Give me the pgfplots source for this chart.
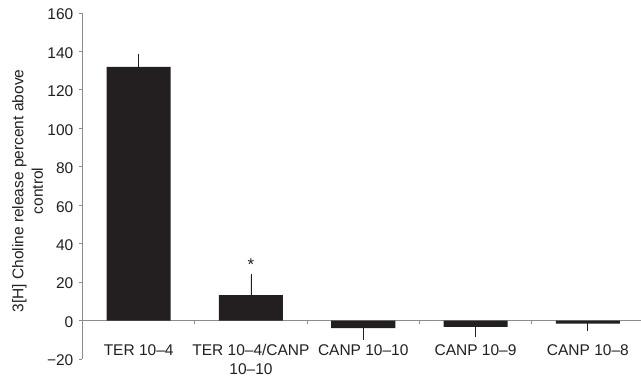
\documentclass[border=0pt]{standalone}
\usepackage{fontspec}
\setmainfont{Liberation Sans}
\usepackage{pgfplots}
\pgfplotsset{compat=1.18}
\definecolor{barc}{HTML}{231F20}
\definecolor{axc}{HTML}{8C8C8C}
\pgfplotstableread{
x y ep em
0 132.0 5.5 0
1 13.2 10.2 0
2 -4.0 0 5.0
3 -3.3 0 4.2
4 -1.6 0 2.6
}\bardata
\begin{document}
\begin{tikzpicture}
\begin{axis}[
  scale only axis, width=561.5pt, height=346pt,
  xmin=-0.5, xmax=4.5, ymin=-20, ymax=160,
  axis y line=left, axis x line*=bottom,
  x axis line style={draw=none},
  y axis line style={axc, line width=0.8pt, -},
  ytick={-20,0,20,40,60,80,100,120,140,160},
  yticklabels={−20,0,20,40,60,80,100,120,140,160},
  ytick style={axc, line width=0.8pt},
  tick align=outside, major tick length=3pt,
  xtick={0,1,2,3,4}, xtick style={draw=none},
  xticklabels={TER 10–4, {TER 10–4/CANP\\10–10}, CANP 10–10, CANP 10–9, CANP 10–8},
  ticklabel style={font=\fontsize{15.5}{19}\selectfont, text=barc},
  xticklabel style={align=center, anchor=north, inner sep=0pt, yshift=17.5pt},
  yticklabel style={inner sep=0pt, xshift=-6pt, yshift=-1.5pt},
  ylabel={3[H] Choline release percent above\\control},
  ylabel style={align=center, font=\fontsize{15.5}{19.5}\selectfont, text=barc, inner sep=0pt, anchor=north, at={([xshift=-70.5pt,yshift=-5pt]rel axis cs:0,0.5)}},
  clip=false,
]
\addplot[axc, line width=0.8pt, forget plot] coordinates {(-0.5,0) (4.5,0)};
\addplot[axc, line width=0.8pt, ycomb, no markers, forget plot] coordinates {(0.5,-1.6) (1.5,-1.6) (2.5,-1.6) (3.5,-1.6)};
\addplot[ybar, bar width=0.57, fill=barc, draw=none,
  error bars/.cd, y dir=both, y explicit,
  error bar style={barc, line width=0.9pt},
  error mark options={barc, mark size=2pt, line width=0.9pt}]
  table[x=x, y=y, y error plus=ep, y error minus=em] {\bardata};
\node[font=\fontsize{17}{20}\selectfont, text=barc] at (axis cs:1,29) {*};
\end{axis}
\pgfresetboundingbox
\path[use as bounding box] ([shift={(-82.5pt,-19pt)}]current axis.south west) rectangle ([shift={(-3pt,13pt)}]current axis.north east);
\end{tikzpicture}
\end{document}
